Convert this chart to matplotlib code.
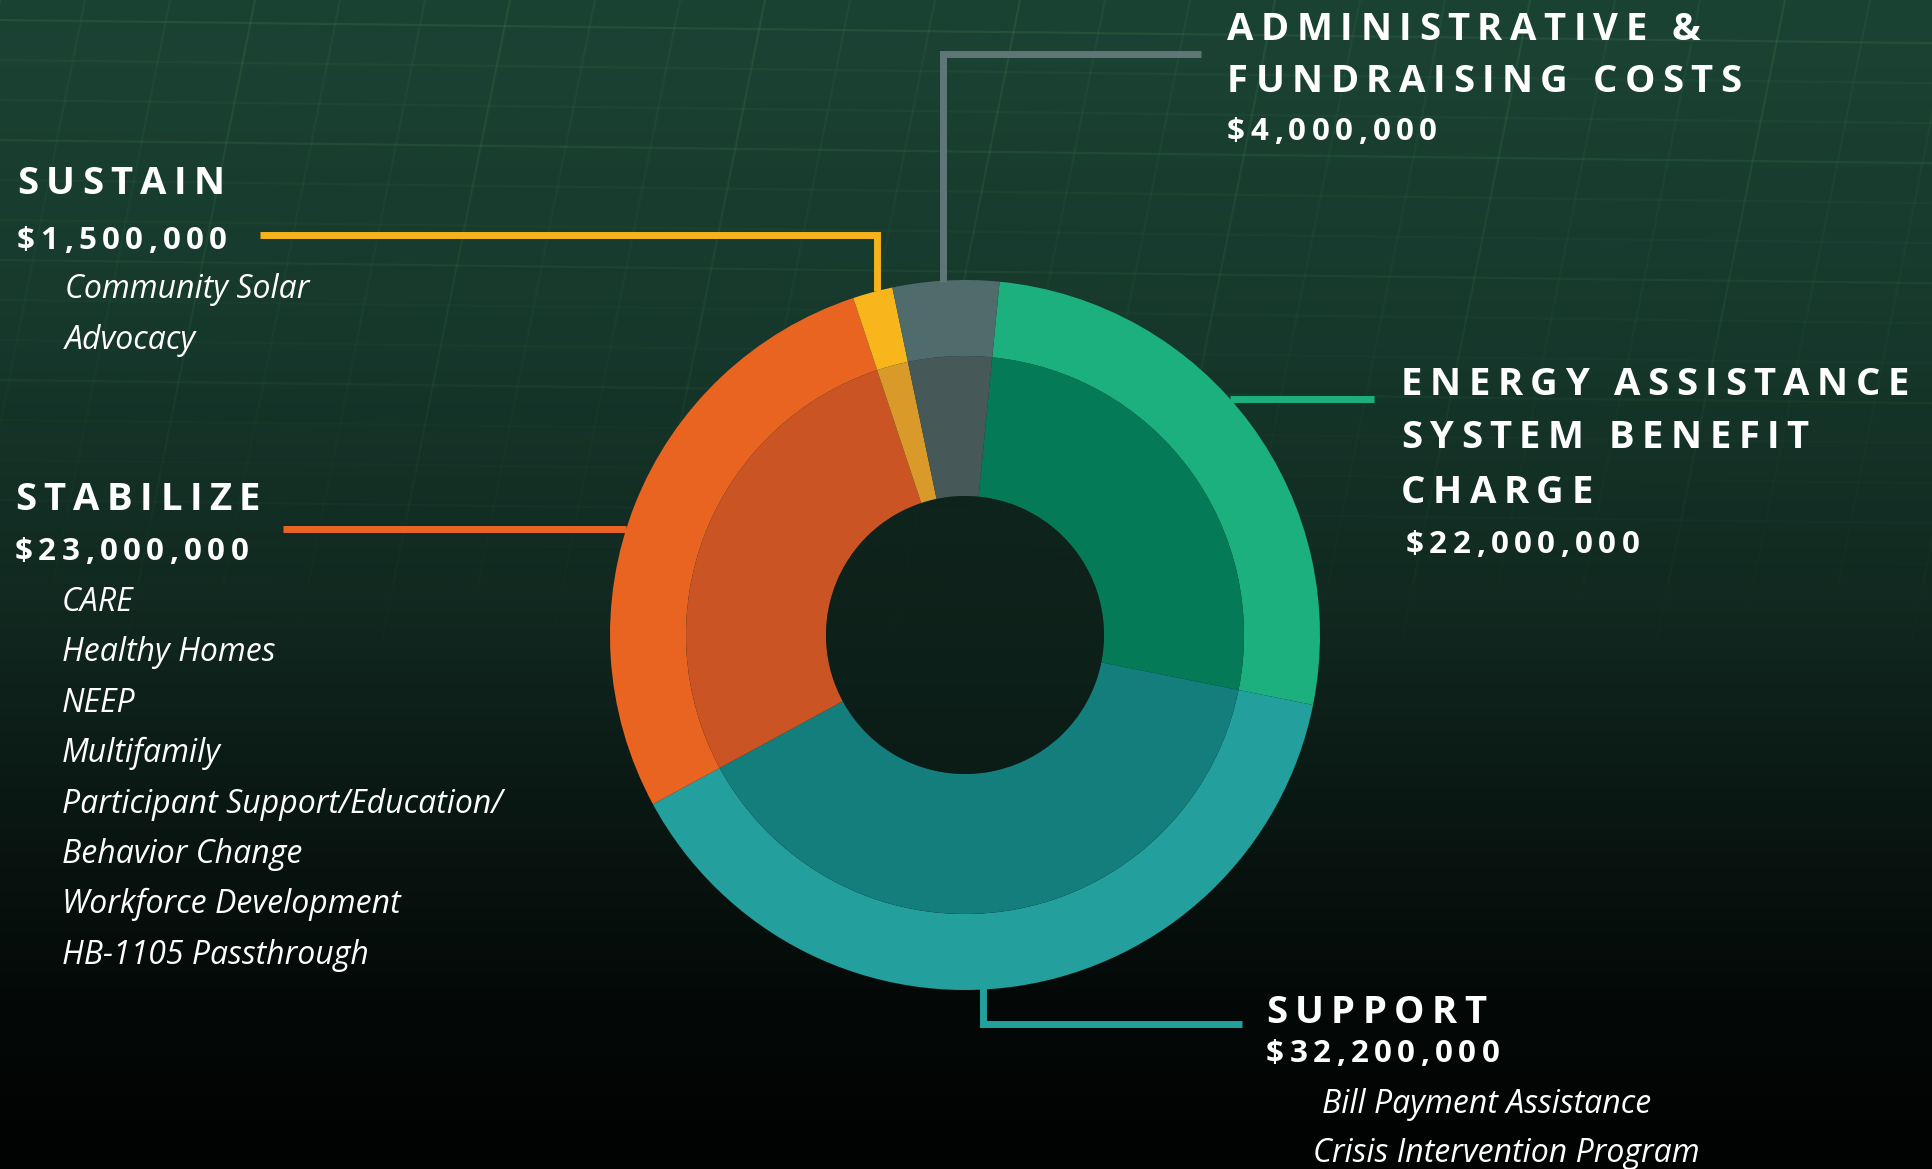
import numpy as np
import matplotlib
matplotlib.use("Agg")
import matplotlib.pyplot as plt
from matplotlib import font_manager
from matplotlib.ft2font import FT2Font
from matplotlib.collections import LineCollection
try:
    from matplotlib.ft2font import LoadFlags
    NOHINT = LoadFlags.NO_HINTING
except ImportError:
    from matplotlib.ft2font import LOAD_NO_HINTING as NOHINT
from matplotlib.patches import Circle

W, H = 1932, 1169
DPI = 100

# ---------------- data ----------------
categories = ["Energy Assistance System Benefit Charge", "Support", "Stabilize",
              "Sustain", "Administrative & Fundraising Costs"]
amounts = [22_000_000, 32_200_000, 23_000_000, 1_500_000, 4_000_000]
title_energy = ["ENERGY ASSISTANCE", "SYSTEM BENEFIT", "CHARGE"]
title_support = ["SUPPORT"]
title_stabilize = ["STABILIZE"]
title_sustain = ["SUSTAIN"]
title_admin = ["ADMINISTRATIVE &", "FUNDRAISING COSTS"]
items_support = ["Bill Payment Assistance", "Crisis Intervention Program"]
items_stabilize = ["CARE", "Healthy Homes", "NEEP", "Multifamily",
                   "Participant Support/Education/", "Behavior Change",
                   "Workforce Development", "HB-1105 Passthrough"]
items_sustain = ["Community Solar", "Advocacy"]

outer_colors = ["#1bb07d", "#23a09d", "#e96421", "#f8b51c", "#4f6b6b"]
inner_colors = ["#057a57", "#137e7b", "#cb5424", "#d99a2a", "#465858"]
line_colors = ["#1bb07d", "#22a09e", "#ec6422", "#f6b31c", "#5e7676"]

# ---------------- figure ----------------
fig = plt.figure(figsize=(W / DPI, H / DPI), dpi=DPI)
ax = fig.add_axes([0, 0, 1, 1])

# background gradient (decoration)
stops_y = np.array([0, 300, 600, 800, 1000, 1169])
stops_c = np.array([[0x1b, 0x43, 0x34], [0x17, 0x3a, 0x2d], [0x11, 0x29, 0x20],
                    [0x0a, 0x18, 0x13], [0x04, 0x09, 0x07], [0x01, 0x02, 0x02]]) / 255
rows = np.arange(H)
grad = np.stack([np.interp(rows, stops_y, stops_c[:, k]) for k in range(3)], axis=1)
img = np.repeat(grad[:, None, :], 40, axis=1)
ax.imshow(img, extent=(0, W, 0, H), origin="upper", aspect="auto", zorder=0)

# faint solar-panel grid (decoration), fading downwards
def fade_alpha(y):
    return max(0.0, 0.16 * (1 - y / 650))

segs, cols = [], []
gcol = np.array([0.25, 0.50, 0.30])
for k in range(16):
    y0 = 20 + k * 40
    for j in range(12):
        xa, xb = j * W / 12, (j + 1) * W / 12
        ya, yb = y0 + 0.012 * xa, y0 + 0.012 * xb
        segs.append([(xa, H - ya), (xb, H - yb)])
        a = fade_alpha(ya) * (1.6 if k % 3 == 0 else 0.8)
        cols.append((*gcol, min(a, 0.3)))
for k in range(-2, 26):
    x0 = k * 85
    for j in range(10):
        ya, yb = j * 65, (j + 1) * 65
        xa, xb = x0 - 0.2 * ya, x0 - 0.2 * yb
        segs.append([(xa, H - ya), (xb, H - yb)])
        a = fade_alpha(ya) * (1.5 if k % 3 == 0 else 0.8)
        cols.append((*gcol, min(a, 0.3)))
ax.add_collection(LineCollection(segs, colors=cols, linewidths=1.6, zorder=1))

# ---------------- donut ----------------
CX, CY = 965, H - 635
R_OUT, R_MID, R_IN = 355, 279, 139
START = 84.4
ax.pie(amounts, radius=R_OUT, center=(CX, CY), startangle=START, counterclock=False,
       colors=outer_colors, wedgeprops=dict(width=R_OUT - R_MID, linewidth=0))
ax.pie(amounts, radius=R_MID, center=(CX, CY), startangle=START, counterclock=False,
       colors=inner_colors, wedgeprops=dict(width=R_MID - R_IN, linewidth=0))
ax.add_patch(Circle((CX, CY), R_IN, facecolor="#0c1d17", alpha=0.6, lw=0, zorder=2))
ax.set_xlim(0, W)
ax.set_ylim(0, H)
ax.set_aspect("auto")
ax.axis("off")

# ---------------- leader lines ----------------
def leader(pts, color):
    xs = [p[0] for p in pts]
    ys = [H - p[1] for p in pts]
    ax.plot(xs, ys, color=color, lw=5, solid_capstyle="butt", solid_joinstyle="miter", zorder=3)

leader([(1230, 399), (1374, 399)], line_colors[0])
leader([(983, 988), (983, 1024), (1242, 1024)], line_colors[1])
leader([(283, 529), (626, 529)], line_colors[2])
leader([(260, 235), (877, 235), (877, 291)], line_colors[3])
leader([(943, 282), (943, 54), (1201, 54)], line_colors[4])

# ---------------- text ----------------
def tracked(x, y_img, s, size_pt, track_em, weight="bold", style="normal", color="white"):
    fp = font_manager.FontProperties(family="Open Sans", weight=weight, style=style, size=size_pt)
    ft = FT2Font(font_manager.findfont(fp))
    ft.set_size(size_pt, DPI)
    px_em = size_pt * DPI / 72
    cx = x
    for ch in s:
        if ch != " ":
            ax.text(cx, H - y_img, ch, fontproperties=fp, color=color,
                    ha="left", va="baseline", zorder=5)
        g = ft.load_char(ord(ch), flags=NOHINT)
        cx += g.linearHoriAdvance / 65536 + track_em * px_em

def italic(x, y_img, s, size_pt=23):
    ax.text(x, H - y_img, s, family="Open Sans", style="italic", fontsize=size_pt,
            color="white", ha="left", va="baseline", zorder=5)

TS, TT = 27.5, 0.195    # title size / tracking
AS, AT = 22.5, 0.175    # amount size / tracking

def money(v):
    return "${:,.0f}".format(v)

# Administrative
for s, yb in zip(title_admin, [40, 92]):
    tracked(1227, yb, s, TS, TT)
tracked(1227, 140, money(amounts[4]), AS, AT)

# Sustain
tracked(17, 194, title_sustain[0], TS, TT)
tracked(17, 249, money(amounts[3]), AS, AT)
for i, s in enumerate(items_sustain):
    italic(65, 298 + 51 * i, s)

# Stabilize
tracked(15, 510, title_stabilize[0], TS, TT)
tracked(15, 560, money(amounts[2]), AS, AT)
for i, s in enumerate(items_stabilize):
    italic(62, 611 + 50.4 * i, s)

# Energy assistance
for s, yb in zip(title_energy, [395, 448, 503]):
    tracked(1401, yb, s, TS, TT)
tracked(1406, 553, money(amounts[0]), AS, AT)

# Support
tracked(1266, 1023, title_support[0], TS, TT)
tracked(1266, 1062, money(amounts[1]), AS, AT)
italic(1322, 1113, items_support[0])
italic(1313, 1162, items_support[1])

fig.savefig("out.png", dpi=DPI)
